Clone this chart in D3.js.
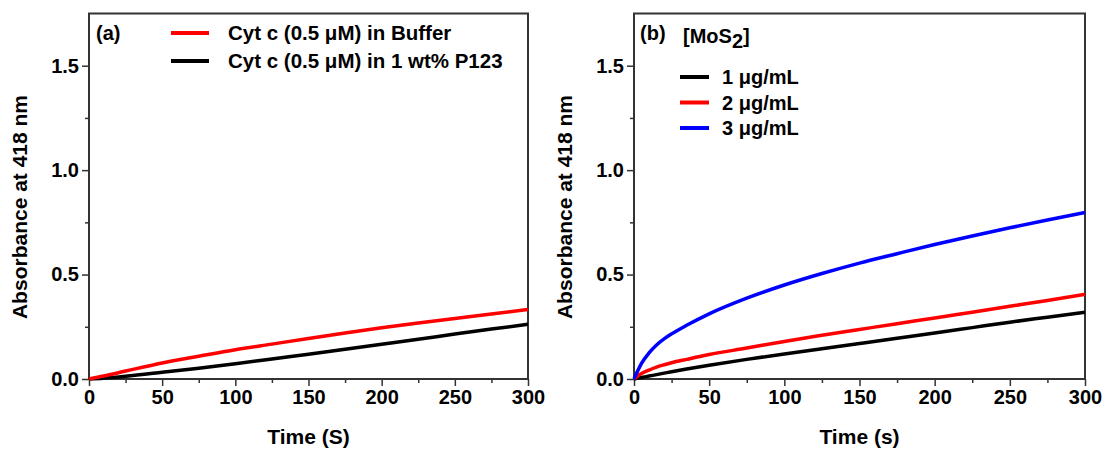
<!DOCTYPE html>
<html><head><meta charset="utf-8">
<script src="https://cdn.jsdelivr.net/npm/d3@7"></script>
<style>body{margin:0;background:#fff}text{font-family:"Liberation Sans",Arial,sans-serif;font-weight:bold}</style>
</head><body><svg id="c" width="1105" height="451"></svg>
<script>
// Panel (a) data
const timeA = [0, 10, 25, 50, 75, 100, 125, 150, 175, 200, 225, 250, 275, 300];
const bufferA = [0, 0.014, 0.038, 0.077, 0.109, 0.140, 0.167, 0.194, 0.220, 0.245, 0.268, 0.290, 0.311, 0.333];
const p123A   = [0, 0.004, 0.013, 0.032, 0.052, 0.073, 0.096, 0.119, 0.142, 0.166, 0.190, 0.215, 0.239, 0.262];
// Panel (b) data
const timeB = [0, 2, 5, 10, 15, 20, 25, 35, 50, 75, 100, 125, 150, 175, 200, 225, 250, 275, 300];
const mos1 = [0, 0.003, 0.007, 0.014, 0.021, 0.028, 0.035, 0.048, 0.066, 0.094, 0.120, 0.145, 0.170, 0.195, 0.220, 0.246, 0.272, 0.296, 0.320];
const mos2 = [0, 0.012, 0.026, 0.043, 0.057, 0.068, 0.078, 0.094, 0.117, 0.148, 0.180, 0.209, 0.237, 0.265, 0.292, 0.320, 0.348, 0.376, 0.405];
const mos3 = [0, 0.032, 0.075, 0.125, 0.163, 0.192, 0.216, 0.257, 0.312, 0.387, 0.450, 0.505, 0.555, 0.600, 0.644, 0.685, 0.724, 0.761, 0.797];
const xTicks = [0, 50, 100, 150, 200, 250, 300];
const yTicks = [0.0, 0.5, 1.0, 1.5];
const legendA = ["Cyt c (0.5 \u03bcM) in Buffer", "Cyt c (0.5 \u03bcM) in 1 wt% P123"];
const legendB = ["1 \u03bcg/mL", "2 \u03bcg/mL", "3 \u03bcg/mL"];

const svg = d3.select("#c");
const axisCol = "#333";

function panel(x0, x1, xTitle) {
  const x = d3.scaleLinear().domain([0, 300]).range([x0, x1]);
  const y = d3.scaleLinear().domain([0, 1.75]).range([379, 13.5]);
  const g = svg.append("g");
  const xb = g.append("g").attr("transform", `translate(0,${y(0)})`)
    .call(d3.axisBottom(x).tickValues(d3.range(25, 300, 50)).tickSize(4).tickFormat(""));
  const xa = g.append("g").attr("transform", `translate(0,${y(0)})`)
    .call(d3.axisBottom(x).tickValues(xTicks).tickSize(7).tickPadding(4).tickFormat(d3.format("d")));
  const yb = g.append("g").attr("transform", `translate(${x0},0)`)
    .call(d3.axisLeft(y).tickValues([0.25, 0.75, 1.25]).tickSize(4).tickFormat(""));
  const ya = g.append("g").attr("transform", `translate(${x0},0)`)
    .call(d3.axisLeft(y).tickValues(yTicks).tickSize(7).tickPadding(3).tickFormat(d3.format(".1f")));
  [xb, xa, yb, ya].forEach(a => {
    a.select(".domain").remove();
    a.selectAll("line").attr("stroke", axisCol).attr("stroke-width", 1.5);
    a.selectAll("text").attr("fill", "#000").style("font-size", "20px").style("font-family", '"Liberation Sans",Arial,sans-serif').style("font-weight", "bold");
  });
  g.append("rect").attr("x", x0).attr("y", y(1.75)).attr("width", x1 - x0).attr("height", y(0) - y(1.75))
    .attr("fill", "none").attr("stroke", axisCol).attr("stroke-width", 2);
  g.append("text").attr("x", (x0 + x1) / 2).attr("y", 444).attr("text-anchor", "middle")
    .style("font-size", "21px").text(xTitle);
  g.append("text").attr("transform", `translate(${x0 - 62},${207}) rotate(-90)`).attr("text-anchor", "middle")
    .style("font-size", "21px").text("Absorbance at 418 nm");
  return {x, y, g};
}

function drawLine(p, xs, ys, color) {
  const line = d3.line().x((d, i) => p.x(xs[i])).y(d => p.y(d)).curve(d3.curveMonotoneX);
  p.g.append("path").datum(ys).attr("d", line).attr("fill", "none").attr("stroke", color)
    .attr("stroke-width", 3.5).attr("stroke-linejoin", "round");
}

const pa = panel(89, 528, "Time (S)");
drawLine(pa, timeA, p123A, "#000");
drawLine(pa, timeA, bufferA, "#ff0000");
pa.g.append("text").attr("x", 96).attr("y", 40).style("font-size", "20px").text("(a)");
const colA = ["#ff0000", "#000"];
legendA.forEach((t, i) => {
  const yy = 33 + i * 28;
  pa.g.append("line").attr("x1", 171).attr("x2", 209).attr("y1", yy).attr("y2", yy).attr("stroke", colA[i]).attr("stroke-width", 4);
  pa.g.append("text").attr("x", 228).attr("y", yy + 7).style("font-size", "20.5px").text(t);
});

const pb = panel(634, 1085, "Time (s)");
drawLine(pb, timeB, mos1, "#000");
drawLine(pb, timeB, mos2, "#ff0000");
drawLine(pb, timeB, mos3, "#0000ff");
pb.g.append("text").attr("x", 640).attr("y", 40).style("font-size", "20px").text("(b)");
const mt = pb.g.append("text").attr("x", 683).attr("y", 43).style("font-size", "20px");
mt.append("tspan").text("[MoS");
mt.append("tspan").attr("dy", 5).text("2");
mt.append("tspan").attr("dy", -5).text("]");
const colB = ["#000", "#ff0000", "#0000ff"];
legendB.forEach((t, i) => {
  const yy = 77 + i * 25.5;
  pb.g.append("line").attr("x1", 680).attr("x2", 709).attr("y1", yy).attr("y2", yy).attr("stroke", colB[i]).attr("stroke-width", 4);
  pb.g.append("text").attr("x", 722).attr("y", yy + 7).style("font-size", "20px").text(t);
});
</script></body></html>
